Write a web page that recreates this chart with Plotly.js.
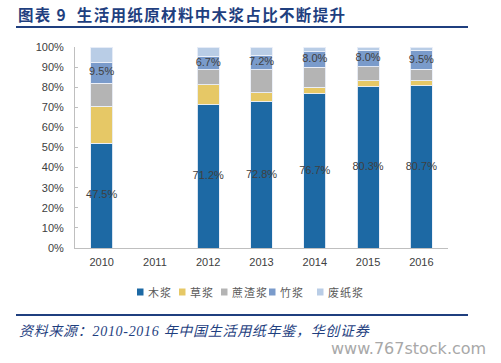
<!DOCTYPE html>
<html>
<head>
<meta charset="utf-8">
<script src="https://cdn.plot.ly/plotly-3.0.1.min.js"></script>
<style>html,body{margin:0;padding:0;background:#fff;}#chart{width:501px;height:363px;}</style>
</head>
<body>
<div id="chart"></div>
<script>
// ---- data ----
var years = ['2010', '2011', '2012', '2013', '2014', '2015', '2016'];
var seriesNames = ['木浆', '草浆', '蔗渣浆', '竹浆', '废纸浆'];
var seriesColors = ['#1D69A4', '#E6C866', '#B4B4B4', '#7A9BCB', '#B9CDE6'];
var woodPulp   = [52.0, null, 71.2, 72.8, 76.7, 80.3, 80.7];
var strawPulp  = [18.5, null, 10.0, 4.5, 3.2, 2.8, 2.4];
var bagasse    = [11.5, null, 7.5, 11.3, 10.0, 7.2, 5.9];
var bambooPulp = [10.4, null, 6.7, 7.3, 7.8, 8.0, 9.3];
var wastePulp  = [7.6, null, 4.6, 4.1, 2.3, 1.7, 1.7];
var woodLabels   = ['47.5%', '', '71.2%', '72.8%', '76.7%', '80.3%', '80.7%'];
var bambooLabels = ['9.5%', '', '6.7%', '7.2%', '8.0%', '8.0%', '9.5%'];

var titleText = '图表 9\u00a0\u00a0生活用纸原材料中木浆占比不断提升';
var sourceText = '资料来源：2010-2016 年中国生活用纸年鉴，华创证券';
var watermark = 'www.767stock.com';

// ---- geometry helpers (plot area in px) ----
var L = 75, R = 448, T = 47, B = 248;
function px(x) { return (x - L) / (R - L); }
function py(y) { return (B - y) / (B - T); }

var allSeries = [woodPulp, strawPulp, bagasse, bambooPulp, wastePulp];
var traces = allSeries.map(function (vals, i) {
  return {
    type: 'bar', x: years, y: vals, name: seriesNames[i],
    marker: { color: seriesColors[i], line: { color: 'rgba(235,240,248,0.9)', width: 1 } },
    width: 0.41, showlegend: false, hoverinfo: 'skip'
  };
});

// label positions: centre of wood segment and centre of bamboo segment
var woodMid = woodPulp.map(function (v) { return v == null ? null : v / 2; });
var bambooMid = years.map(function (_, k) {
  if (woodPulp[k] == null) return null;
  return woodPulp[k] + strawPulp[k] + bagasse[k] + bambooPulp[k] / 2;
});
var labelFont = { family: 'Liberation Sans, Arial, sans-serif', size: 11, color: '#404040' };
traces.push({ type: 'scatter', mode: 'text', x: years, y: woodMid, text: woodLabels,
  textfont: labelFont, showlegend: false, hoverinfo: 'skip', cliponaxis: false });
traces.push({ type: 'scatter', mode: 'text', x: years, y: bambooMid, text: bambooLabels,
  textfont: labelFont, showlegend: false, hoverinfo: 'skip', cliponaxis: false });

// custom legend (square + text) built from the series arrays
var legendSquareX = [137, 179, 221, 269, 317];
var legendTextX = [146, 188, 230, 278, 326];
var legendY = 292;
var shapes = [];
var annotations = [];
var spacing = [];
seriesNames.forEach(function (n, i) {
  shapes.push({ type: 'rect', xref: 'paper', yref: 'paper',
    x0: px(legendSquareX[i]), x1: px(legendSquareX[i] + 6.5),
    y0: py(legendY + 3.5), y1: py(legendY - 3.5),
    fillcolor: seriesColors[i], line: { width: 0 } });
  annotations.push({ xref: 'paper', yref: 'paper', x: px(legendTextX[i]), y: py(legendY),
    xanchor: 'left', yanchor: 'middle', showarrow: false, text: n,
    font: { family: 'Noto Sans CJK SC, sans-serif', size: 11, color: '#595959' } });
  spacing.push(1);
});

// title + rules + source
shapes.push({ type: 'line', xref: 'paper', yref: 'paper', x0: px(16), x1: px(468),
  y0: py(27), y1: py(27), line: { color: '#1F3F7F', width: 2 } });
shapes.push({ type: 'line', xref: 'paper', yref: 'paper', x0: px(16), x1: px(468),
  y0: py(315), y1: py(315), line: { color: '#1F3F7F', width: 2 } });
annotations.push({ xref: 'paper', yref: 'paper', x: px(16), y: py(14), xanchor: 'left', yanchor: 'middle',
  showarrow: false, text: '<b>' + titleText + '</b>',
  font: { family: 'Noto Sans CJK SC, sans-serif', size: 15.5, color: '#1F3F7F' } });
spacing.push(1.35);
annotations.push({ xref: 'paper', yref: 'paper', x: px(17), y: py(331), xanchor: 'left', yanchor: 'middle',
  showarrow: false, text: '<i>' + sourceText + '</i>',
  font: { family: 'Liberation Serif, Noto Sans CJK SC, serif', size: 14, color: '#1F3F7F' } });
spacing.push(0.7);
annotations.push({ xref: 'paper', yref: 'paper', x: px(488), y: py(348), xanchor: 'right', yanchor: 'middle',
  showarrow: false, text: watermark,
  font: { family: 'DejaVu Sans, sans-serif', size: 16, color: '#A8A8A8' } });
spacing.push(0);

var layout = {
  width: 501, height: 363,
  margin: { l: L, r: 501 - R, t: T, b: 363 - B, pad: 0 },
  paper_bgcolor: '#ffffff', plot_bgcolor: '#ffffff',
  barmode: 'stack', showlegend: false,
  font: { family: 'Liberation Sans, Arial, sans-serif', size: 11, color: '#404040' },
  xaxis: { type: 'category', categoryorder: 'array', categoryarray: years,
    showline: true, linecolor: '#BFBFBF', linewidth: 1, ticks: '', showgrid: false, zeroline: false,
    tickfont: { size: 11, color: '#404040' }, ticklabelstandoff: 4, fixedrange: true },
  yaxis: { range: [0, 100], dtick: 10, ticksuffix: '%', showline: true, linecolor: '#BFBFBF', linewidth: 1,
    ticks: 'inside', ticklen: 3, tickcolor: '#BFBFBF', showgrid: false, zeroline: false,
    tickfont: { size: 11, color: '#404040' }, ticklabelstandoff: 8, fixedrange: true },
  shapes: shapes,
  annotations: annotations
};

Plotly.newPlot('chart', traces, layout, { staticPlot: true, displayModeBar: false }).then(function (gd) {
  var texts = gd.querySelectorAll('.annotation .annotation-text');
  texts.forEach(function (t, i) {
    if (!spacing[i]) return;
    var b0 = t.getBBox();
    t.style.letterSpacing = spacing[i] + 'px';
    var b1 = t.getBBox();
    var dx = b0.x - b1.x;  // keep left edge fixed
    var x = parseFloat(t.getAttribute('x') || '0');
    t.setAttribute('x', x + dx);
    t.querySelectorAll('tspan[x]').forEach(function (s) {
      s.setAttribute('x', parseFloat(s.getAttribute('x')) + dx);
    });
  });
});
</script>
</body>
</html>
